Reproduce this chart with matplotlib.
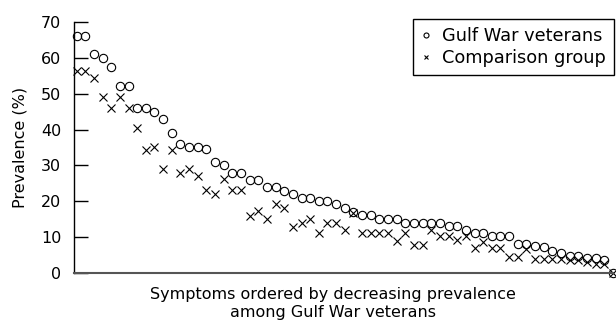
import numpy as np
import matplotlib
matplotlib.use('Agg')
import matplotlib.pyplot as plt

# prevalence (%) per symptom, ordered by decreasing prevalence among Gulf War veterans
gulf_war = [66, 66, 61, 60, 57.4, 52, 52, 46, 46, 45,
            43, 39, 36, 35, 35, 34.5, 31, 30, 28, 28,
            26, 26, 24, 24, 23, 22, 21, 21, 20, 20,
            19.2, 18.2, 17.1, 16.2, 16.2, 15, 15, 15, 14, 14,
            14, 14, 13.9, 13.1, 13.1, 12, 11.2, 11.2, 10.3, 10.3,
            10.3, 8.1, 8.1, 7.5, 7.3, 6.2, 5.5, 4.7, 4.7, 4.1,
            4.1, 3.6, 0]
comparison = [56.3, 56.3, 54.3, 49.2, 45.9, 49.2, 46, 40.3, 34.3, 35,
              29, 34.3, 27.8, 28.9, 27, 23.1, 22, 26.1, 23.1, 23.1,
              16, 17.2, 15, 19.2, 18, 12.7, 13.9, 15, 11.1, 13.9,
              13.9, 11.9, 16.6, 11.1, 11.1, 11.1, 11.1, 9.0, 11.1, 7.8,
              7.8, 12.1, 10.4, 10.3, 9.2, 10.3, 6.9, 8.7, 6.9, 6.9,
              4.6, 4.6, 6.6, 4.0, 4.0, 4.0, 4.0, 3.5, 3.5, 3.0,
              2.5, 2.5, 0]
y_ticks = [0, 10, 20, 30, 40, 50, 60, 70]


def main():
    plt.rcParams['font.family'] = 'DejaVu Sans'
    fig = plt.figure(figsize=(6.16, 3.27), dpi=100)
    ax = fig.add_axes([0.120, 0.165, 0.875, 0.768])

    x = np.arange(1, len(gulf_war) + 1)
    ax.plot(x, gulf_war, linestyle='none', marker='o', markersize=6,
            markerfacecolor='none', markeredgecolor='black', markeredgewidth=0.8,
            clip_on=False, label='Gulf War veterans')
    ax.plot(x, comparison, linestyle='none', marker='x', markersize=5.5,
            color='black', markeredgewidth=0.8,
            clip_on=False, label='Comparison group')

    ax.set_xlim(0.69, 63)
    ax.set_ylim(0, 70)
    ax.set_yticks(y_ticks)
    ax.set_xticks([])
    ax.tick_params(axis='y', direction='in', length=10, width=1, pad=9, labelsize=11.5)
    ax.spines['top'].set_visible(False)
    ax.spines['right'].set_visible(False)
    ax.spines['left'].set_linewidth(1)
    ax.spines['bottom'].set_linewidth(1.5)
    ax.spines['bottom'].set_color('#555555')

    ax.set_ylabel('Prevalence (%)', fontsize=11.5, labelpad=10)
    fig.text(333 / 616, 1 - 287 / 327,
             'Symptoms ordered by decreasing prevalence\namong Gulf War veterans',
             ha='center', va='top', fontsize=11.5, linespacing=1.25)

    leg = ax.legend(loc='upper right', bbox_to_anchor=(614 / 616, 1 - 19 / 327),
                    bbox_transform=fig.transFigure, fontsize=12.8,
                    handlelength=0.6, handletextpad=0.6, borderpad=0.45,
                    labelspacing=0.25, fancybox=False, framealpha=1,
                    markerscale=0.6, borderaxespad=0)
    leg.get_frame().set_edgecolor('black')
    leg.get_frame().set_linewidth(1)

    fig.savefig('out.png', dpi=100)


if __name__ == '__main__':
    main()
